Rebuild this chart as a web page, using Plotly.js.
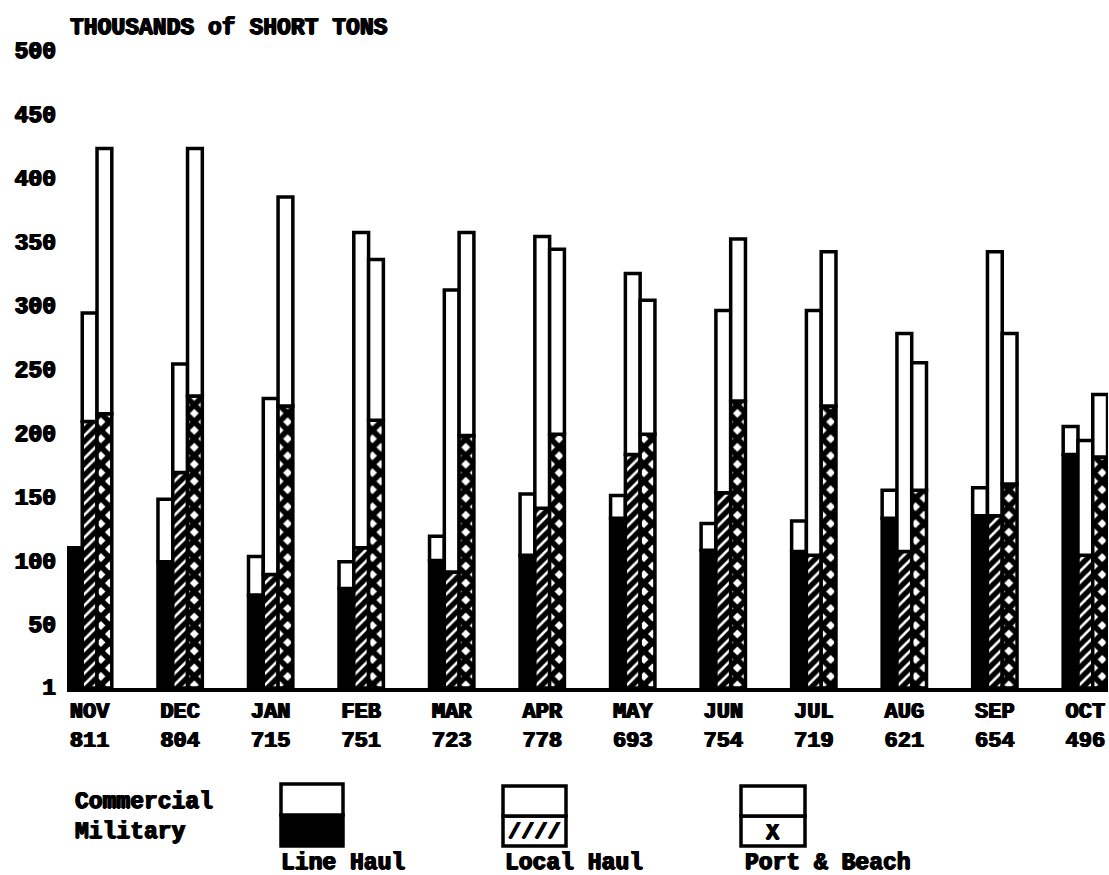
<!DOCTYPE html>
<html>
<head>
<meta charset="utf-8">
<script src="https://cdn.plot.ly/plotly-3.0.1.min.js"></script>
<style>
  html, body { margin: 0; padding: 0; background: #ffffff; }
  #chart { width: 1109px; height: 875px; }
</style>
</head>
<body>
<div id="chart"></div>
<script>
// ---- Data (thousands of short tons) ----
const months = ['NOV','DEC','JAN','FEB','MAR','APR','MAY','JUN','JUL','AUG','SEP','OCT'];
const totals = ['811','804','715','751','723','778','693','754','719','621','654','496'];
const lineHaulMilitary   = [110, 99, 73, 78, 100, 104, 133, 108, 107, 133, 135, 183];
const lineHaulCommercial = [0, 49, 30, 21, 19, 48, 18, 21, 24, 22, 22, 22];
const localHaulMilitary   = [209, 169, 89, 110, 91, 141, 183, 153, 104, 107, 135, 104];
const localHaulCommercial = [85, 85, 138, 247, 221, 213, 142, 143, 192, 171, 207, 90];
const portBeachMilitary   = [215, 229, 221, 210, 198, 199, 199, 225, 221, 155, 160, 181];
const portBeachCommercial = [208, 194, 164, 126, 159, 145, 105, 127, 121, 100, 118, 49];
const yTickValues = [1, 50, 100, 150, 200, 250, 300, 350, 400, 450, 500];
const yTickLabels = ['1','50','100','150','200','250','300','350','400','450','500'];

// ---- Layout geometry ----
const W = 1109, H = 875;
const M = {l: 67, r: 1, t: 40, b: 187};
const plotW = W - M.l - M.r, plotH = H - M.t - M.b;
const px = x => (x - M.l) / plotW;
const py = y => (H - M.b - y) / plotH;

const FONT = 'Liberation Mono, Courier New, monospace';
const ink = '#000000';
const outline = {color: ink, width: 3.5};
const heavy = '0.8px 0 0 #000, -0.8px 0 0 #000, 0 0.6px 0 #000';

function bar(name, y, base, group, marker) {
  const t = {
    type: 'bar', name: name, x: months, y: y,
    offsetgroup: group, marker: Object.assign({line: outline}, marker),
    showlegend: false, hoverinfo: 'x+y+name'
  };
  if (base) t.base = base;
  return t;
}

const traces = [
  bar('Line Haul Military', lineHaulMilitary, null, 'lh', {color: ink}),
  bar('Line Haul Commercial', lineHaulCommercial, lineHaulMilitary, 'lh', {color: '#ffffff'}),
  bar('Local Haul Military', localHaulMilitary, null, 'loc',
      {color: '#ffffff', pattern: {shape: '/', fgcolor: ink, bgcolor: '#ffffff', size: 8, solidity: 0.68, fillmode: 'replace'}}),
  bar('Local Haul Commercial', localHaulCommercial, localHaulMilitary, 'loc', {color: '#ffffff'}),
  bar('Port & Beach Military', portBeachMilitary, null, 'pb',
      {color: '#ffffff', pattern: {shape: 'x', fgcolor: ink, bgcolor: '#ffffff', size: 12, solidity: 0.72, fillmode: 'replace'}}),
  bar('Port & Beach Commercial', portBeachCommercial, portBeachMilitary, 'pb', {color: '#ffffff'})
];

const textFont = (size) => ({family: FONT, size: size, color: ink, weight: 'bold', shadow: heavy});

const legendBoxes = [
  {x0: 281, x1: 343, y0: 784, ym: 815, y1: 846, fill: ink},
  {x0: 503, x1: 566, y0: 786, ym: 816, y1: 846, fill: '#ffffff'},
  {x0: 741, x1: 805, y0: 786, ym: 816, y1: 846, fill: '#ffffff'}
];
const shapes = [];
legendBoxes.forEach(b => {
  shapes.push({type: 'rect', xref: 'paper', yref: 'paper', x0: px(b.x0), x1: px(b.x1), y0: py(b.ym), y1: py(b.y1),
               fillcolor: b.fill, line: {color: ink, width: 3.5}});
  shapes.push({type: 'rect', xref: 'paper', yref: 'paper', x0: px(b.x0), x1: px(b.x1), y0: py(b.y0), y1: py(b.ym),
               fillcolor: '#ffffff', line: {color: ink, width: 3.5}});
});

function note(text, x, y, size, anchor) {
  return {text: text, xref: 'paper', yref: 'paper', x: px(x), y: py(y), xanchor: anchor || 'left', yanchor: 'middle',
          showarrow: false, font: textFont(size)};
}
const annotations = [
  note('THOUSANDS of SHORT TONS', 68, 28, 23),
  note('Commercial', 73, 802, 23),
  note('Military', 73, 832, 23),
  note('Line Haul', 279, 863, 23),
  note('Local Haul', 503, 863, 23),
  note('Port &amp; Beach', 743, 863, 23),
  note('////', 534, 832, 22, 'center'),
  note('X', 773, 833, 22, 'center')
];

const layout = {
  width: W, height: H,
  margin: M,
  paper_bgcolor: '#ffffff', plot_bgcolor: '#ffffff',
  barmode: 'group', bargap: 0.51, bargroupgap: 0,
  showlegend: false,
  xaxis: {
    type: 'category', range: [-0.25, 11.25],
    tickmode: 'array', tickvals: months,
    ticktext: months.map((m, i) => m + '<br>' + totals[i]),
    tickfont: textFont(22),
    showline: true, linecolor: ink, linewidth: 3.5,
    showgrid: false, zeroline: false, ticks: ''
  },
  yaxis: {
    range: [0, 508], tickmode: 'array', tickvals: yTickValues, ticktext: yTickLabels,
    tickfont: textFont(23), showgrid: false, zeroline: false, showline: false, ticks: '',
    ticklabelstandoff: 10
  },
  shapes: shapes,
  annotations: annotations
};

Plotly.newPlot('chart', traces, layout, {displayModeBar: false, staticPlot: true});
</script>
</body>
</html>
